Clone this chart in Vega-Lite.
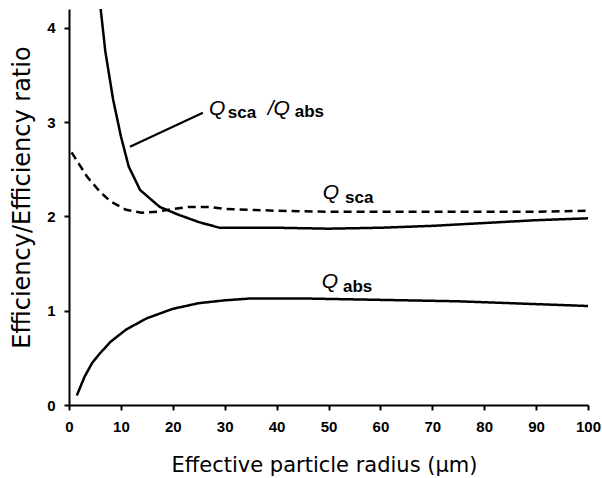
{
  "$schema": "https://vega.github.io/schema/vega-lite/v6.json",
  "width": 519,
  "height": 396,
  "autosize": {"type": "none"},
  "padding": {"left": 69, "top": 9, "right": 14, "bottom": 73},
  "background": "white",
  "config": {"view": {"stroke": null}},
  "datasets": {
    "curves": [
      {"series": "ratio", "x": 5.6, "y": 4.45},
      {"series": "ratio", "x": 7, "y": 3.75},
      {"series": "ratio", "x": 8.5, "y": 3.24},
      {"series": "ratio", "x": 10, "y": 2.85},
      {"series": "ratio", "x": 11.5, "y": 2.53},
      {"series": "ratio", "x": 13.7, "y": 2.28},
      {"series": "ratio", "x": 17.5, "y": 2.1},
      {"series": "ratio", "x": 21, "y": 2.02},
      {"series": "ratio", "x": 25, "y": 1.94},
      {"series": "ratio", "x": 29, "y": 1.88},
      {"series": "ratio", "x": 40, "y": 1.88},
      {"series": "ratio", "x": 50, "y": 1.87},
      {"series": "ratio", "x": 60, "y": 1.88},
      {"series": "ratio", "x": 70, "y": 1.9},
      {"series": "ratio", "x": 80, "y": 1.93},
      {"series": "ratio", "x": 90, "y": 1.96},
      {"series": "ratio", "x": 100, "y": 1.98},
      {"series": "sca", "x": 0.5, "y": 2.68},
      {"series": "sca", "x": 2, "y": 2.55},
      {"series": "sca", "x": 3.5, "y": 2.42},
      {"series": "sca", "x": 6, "y": 2.26},
      {"series": "sca", "x": 8, "y": 2.16},
      {"series": "sca", "x": 11, "y": 2.07},
      {"series": "sca", "x": 14, "y": 2.04},
      {"series": "sca", "x": 17, "y": 2.05},
      {"series": "sca", "x": 20, "y": 2.08},
      {"series": "sca", "x": 23, "y": 2.1},
      {"series": "sca", "x": 27, "y": 2.1},
      {"series": "sca", "x": 30, "y": 2.08},
      {"series": "sca", "x": 40, "y": 2.06},
      {"series": "sca", "x": 50, "y": 2.05},
      {"series": "sca", "x": 60, "y": 2.05},
      {"series": "sca", "x": 70, "y": 2.05},
      {"series": "sca", "x": 80, "y": 2.05},
      {"series": "sca", "x": 90, "y": 2.05},
      {"series": "sca", "x": 100, "y": 2.06},
      {"series": "abs", "x": 1.5, "y": 0.1},
      {"series": "abs", "x": 3, "y": 0.3},
      {"series": "abs", "x": 4.5, "y": 0.45},
      {"series": "abs", "x": 6, "y": 0.55},
      {"series": "abs", "x": 8, "y": 0.67},
      {"series": "abs", "x": 11, "y": 0.8},
      {"series": "abs", "x": 15, "y": 0.92},
      {"series": "abs", "x": 20, "y": 1.02},
      {"series": "abs", "x": 25, "y": 1.08},
      {"series": "abs", "x": 30, "y": 1.11},
      {"series": "abs", "x": 35, "y": 1.13},
      {"series": "abs", "x": 45, "y": 1.13},
      {"series": "abs", "x": 55, "y": 1.12},
      {"series": "abs", "x": 65, "y": 1.11},
      {"series": "abs", "x": 75, "y": 1.1},
      {"series": "abs", "x": 85, "y": 1.08},
      {"series": "abs", "x": 95, "y": 1.06},
      {"series": "abs", "x": 100, "y": 1.05}
    ],
    "leader": [{"x": 11.75, "y": 2.74, "x2": 25.8, "y2": 3.1}],
    "qlabels": [
      {"x": 26.97, "y": 3.08, "t": "Q"},
      {"x": 38.3, "y": 3.08, "t": "/Q"},
      {"x": 48.9, "y": 2.185, "t": "Q"},
      {"x": 48.7, "y": 1.24, "t": "Q"}
    ],
    "sublabels": [
      {"x": 30.6, "y": 3.045, "t": "sca"},
      {"x": 43.5, "y": 3.055, "t": "abs"},
      {"x": 53.2, "y": 2.14, "t": "sca"},
      {"x": 52.8, "y": 1.2, "t": "abs"}
    ]
  },
  "layer": [
    {
      "data": {"name": "curves"},
      "mark": {"type": "line", "clip": true, "strokeWidth": 2.5, "color": "black"},
      "encoding": {
        "x": {
          "field": "x", "type": "quantitative",
          "scale": {"domain": [0, 100], "nice": false},
          "axis": {
            "title": "Effective particle radius (μm)",
            "values": [0, 10, 20, 30, 40, 50, 60, 70, 80, 90, 100],
            "format": "d",
            "grid": false, "domainColor": "black", "domainWidth": 2,
            "tickColor": "black", "tickWidth": 2, "tickSize": 5,
            "labelFont": "Liberation Sans", "labelFontWeight": "bold", "labelFontSize": 15,
            "labelColor": "black", "labelPadding": 9, "labelFlush": false,
            "titleFont": "DejaVu Sans", "titleFontWeight": "normal", "titleFontSize": 21,
            "titleColor": "black", "titleX": 255, "titleY": 66, "titleBaseline": "alphabetic", "titleAnchor": null, "titleAlign": "center"
          }
        },
        "y": {
          "field": "y", "type": "quantitative",
          "scale": {"domain": [0, 4.2], "nice": false},
          "axis": {
            "title": "Efficiency/Efficiency ratio",
            "values": [0, 1, 2, 3, 4],
            "format": "d",
            "grid": false, "domainColor": "black", "domainWidth": 2,
            "tickColor": "black", "tickWidth": 2, "tickSize": 5,
            "labelFont": "Liberation Sans", "labelFontWeight": "bold", "labelFontSize": 15,
            "labelColor": "black", "labelPadding": 9, "labelFlush": false,
            "titleFont": "DejaVu Sans", "titleFontWeight": "normal", "titleFontSize": 24,
            "titleColor": "black", "titleX": -47, "titleY": 188, "titleAngle": 270,
            "titleBaseline": "middle", "titleAlign": "center", "titleAnchor": null
          }
        },
        "detail": {"field": "series"},
        "strokeDash": {
          "field": "series", "type": "nominal",
          "scale": {"domain": ["ratio", "sca", "abs"], "range": [[1, 0], [8, 5], [1, 0]]},
          "legend": null
        }
      }
    },
    {
      "data": {"name": "leader"},
      "mark": {"type": "rule", "strokeWidth": 2.2, "color": "black"},
      "encoding": {
        "x": {"field": "x", "type": "quantitative"},
        "y": {"field": "y", "type": "quantitative"},
        "x2": {"field": "x2"},
        "y2": {"field": "y2"}
      }
    },
    {
      "data": {"name": "qlabels"},
      "mark": {"type": "text", "align": "left", "baseline": "alphabetic", "font": "Liberation Sans", "fontStyle": "italic", "fontSize": 21, "color": "black"},
      "encoding": {
        "x": {"field": "x", "type": "quantitative"},
        "y": {"field": "y", "type": "quantitative"},
        "text": {"field": "t"}
      }
    },
    {
      "data": {"name": "sublabels"},
      "mark": {"type": "text", "align": "left", "baseline": "alphabetic", "font": "Liberation Sans", "fontWeight": "bold", "fontSize": 17, "color": "black"},
      "encoding": {
        "x": {"field": "x", "type": "quantitative"},
        "y": {"field": "y", "type": "quantitative"},
        "text": {"field": "t"}
      }
    }
  ]
}
